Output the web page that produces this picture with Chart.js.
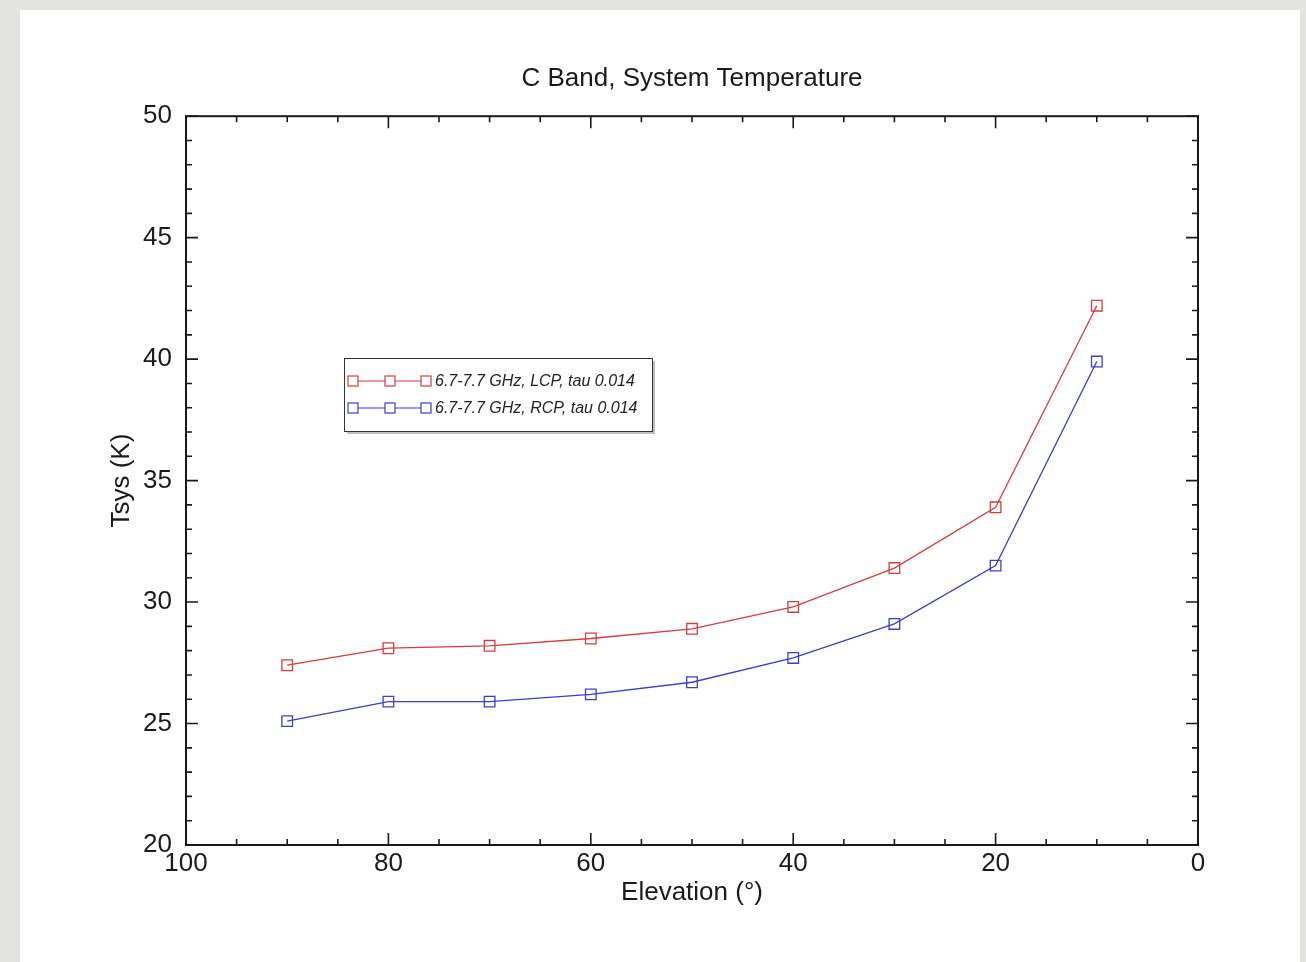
<!DOCTYPE html>
<html>
<head>
<meta charset="utf-8">
<title>C Band, System Temperature</title>
<script src="https://cdn.jsdelivr.net/npm/chart.js@4"></script>
<style>
  html, body { margin: 0; padding: 0; background: #e3e3df; }
  #tsysChart { display: block; }
</style>
</head>
<body>
<canvas id="tsysChart" width="1306" height="962"></canvas>
<script>
// elevation (deg) and measured Tsys (K)
const elevations = [90, 80, 70, 60, 50, 40, 30, 20, 10];
const tsysLCP = [27.4, 28.1, 28.2, 28.5, 28.9, 29.8, 31.4, 33.9, 42.2];
const tsysRCP = [25.1, 25.9, 25.9, 26.2, 26.7, 27.7, 29.1, 31.5, 39.9];
const seriesLabels = ['6.7-7.7 GHz, LCP, tau 0.014', '6.7-7.7 GHz, RCP, tau 0.014'];
const seriesColors = ['#d83c3c', '#3c3cd6'];

const FONT = '"Liberation Sans", Arial, Helvetica, sans-serif';

function toPoints(ys) {
    return elevations.map((x, i) => ({ x: x, y: ys[i] }));
}

// gray page + white card behind the plot
const pageBackground = {
    id: 'pageBackground',
    beforeDraw(chart) {
        const ctx = chart.ctx;
        ctx.save();
        ctx.fillStyle = '#e3e3df';
        ctx.fillRect(0, 0, chart.width, chart.height);
        ctx.fillStyle = '#ffffff';
        ctx.fillRect(20, 10, 1280, chart.height - 10);
        ctx.restore();
    }
};

// frame with inward ticks on all four sides
const frameTicks = {
    id: 'frameTicks',
    afterDatasetsDraw(chart) {
        const { ctx, chartArea: a, scales } = chart;
        const xs = scales.x, ys = scales.y;
        ctx.save();
        ctx.strokeStyle = '#1a1a1a';
        ctx.lineWidth = 2;
        ctx.strokeRect(a.left, a.top, a.right - a.left, a.bottom - a.top);
        ctx.lineWidth = 1.6;
        ctx.beginPath();
        for (let v = 0; v <= 100; v += 5) {
            const px = xs.getPixelForValue(v);
            const len = v % 20 === 0 ? 12 : 6;
            ctx.moveTo(px, a.bottom); ctx.lineTo(px, a.bottom - len);
            ctx.moveTo(px, a.top); ctx.lineTo(px, a.top + len);
        }
        for (let v = 20; v <= 50; v += 1) {
            const py = ys.getPixelForValue(v);
            const len = v % 5 === 0 ? 12 : 6;
            ctx.moveTo(a.left, py); ctx.lineTo(a.left + len, py);
            ctx.moveTo(a.right, py); ctx.lineTo(a.right - len, py);
        }
        ctx.stroke();
        ctx.restore();
    }
};

// boxed legend inside the plot, three markers per sample line
const boxLegend = {
    id: 'boxLegend',
    afterDraw(chart) {
        const ctx = chart.ctx;
        const bx = 344, by = 358, bw = 308, bh = 73;
        ctx.save();
        ctx.fillStyle = 'rgba(0,0,0,0.25)';
        ctx.fillRect(bx + 3, by + 3, bw, bh);
        ctx.fillStyle = '#ffffff';
        ctx.fillRect(bx, by, bw, bh);
        ctx.strokeStyle = '#333';
        ctx.lineWidth = 1;
        ctx.strokeRect(bx + 0.5, by + 0.5, bw, bh);
        chart.data.datasets.forEach((ds, i) => {
            const y = 381 + i * 27;
            ctx.strokeStyle = ds.borderColor;
            ctx.lineWidth = 1.2;
            ctx.beginPath();
            ctx.moveTo(348, y); ctx.lineTo(431, y);
            ctx.stroke();
            [353, 390, 426].forEach(mx => {
                ctx.fillStyle = '#fff';
                ctx.fillRect(mx - 5, y - 5, 10, 10);
                ctx.strokeRect(mx - 5, y - 5, 10, 10);
            });
            ctx.fillStyle = '#222';
            ctx.font = 'italic 16px ' + FONT;
            ctx.textBaseline = 'middle';
            ctx.textAlign = 'left';
            ctx.fillText(ds.label, 435, y + 1);
        });
        ctx.restore();
    }
};

const datasets = [tsysLCP, tsysRCP].map((ys, i) => ({
    label: seriesLabels[i],
    data: toPoints(ys),
    borderColor: seriesColors[i],
    backgroundColor: 'rgba(255,255,255,0)',
    borderWidth: 1.3,
    pointStyle: 'rect',
    pointRadius: 7.5,
    pointHoverRadius: 7.5,
    pointBorderWidth: 1.3,
    showLine: true,
    tension: 0
}));

new Chart(document.getElementById('tsysChart'), {
    type: 'scatter',
    data: { datasets: datasets },
    plugins: [pageBackground, frameTicks, boxLegend],
    options: {
        responsive: false,
        animation: false,
        events: [],
        layout: { padding: { left: 0, right: 108, top: 0, bottom: 0 } },
        plugins: {
            legend: { display: false },
            tooltip: { enabled: false },
            title: {
                display: true,
                fullSize: false,
                text: 'C Band, System Temperature',
                color: '#1a1a1a',
                font: { family: FONT, size: 26, weight: 'normal' },
                padding: { top: 63, bottom: 22 }
            }
        },
        scales: {
            x: {
                type: 'linear',
                reverse: true,
                min: 0,
                max: 100,
                ticks: {
                    stepSize: 20,
                    padding: 3,
                    color: '#1a1a1a',
                    font: { family: FONT, size: 26 },
                    maxRotation: 0
                },
                grid: { display: false, drawTicks: false },
                border: { display: false },
                title: {
                    display: true,
                    text: 'Elevation (°)',
                    color: '#1a1a1a',
                    font: { family: FONT, size: 26 },
                    padding: { top: 0, bottom: 54 }
                },
                afterFit(scale) { scale.height = 117; }
            },
            y: {
                type: 'linear',
                min: 20,
                max: 50,
                ticks: {
                    stepSize: 5,
                    padding: 14,
                    color: '#1a1a1a',
                    font: { family: FONT, size: 26 }
                },
                grid: { display: false, drawTicks: false },
                border: { display: false },
                title: {
                    display: true,
                    text: 'Tsys (K)',
                    color: '#1a1a1a',
                    font: { family: FONT, size: 26 },
                    padding: { top: 106, bottom: 0 }
                },
                afterFit(scale) { scale.width = 186; }
            }
        }
    }
});
</script>
</body>
</html>
